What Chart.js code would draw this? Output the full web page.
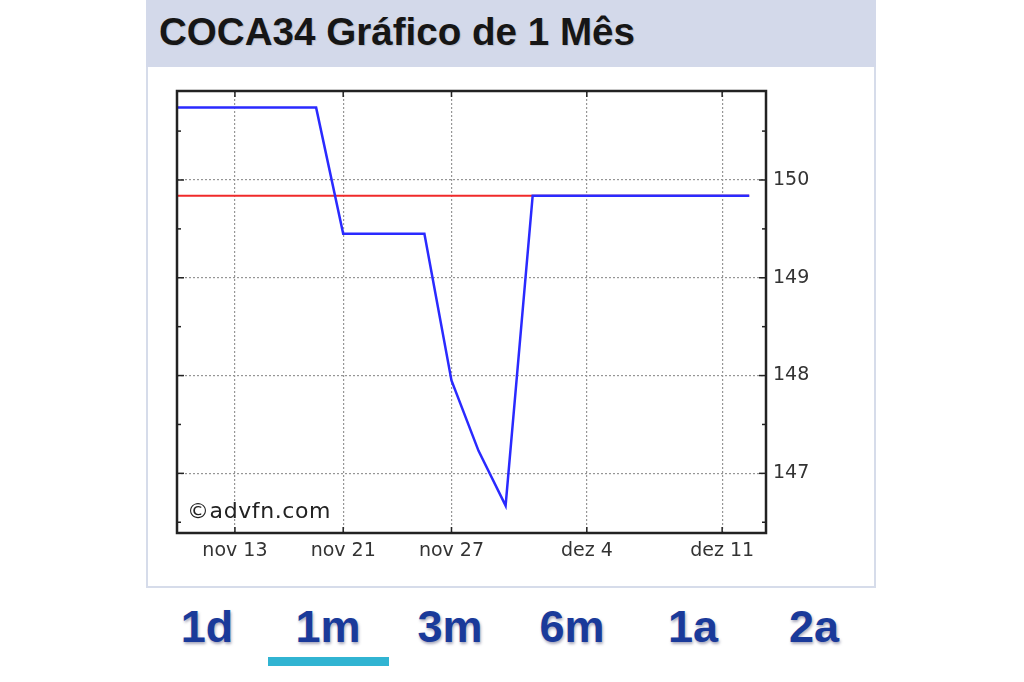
<!DOCTYPE html>
<html>
<head>
<meta charset="utf-8">
<script src="https://cdn.jsdelivr.net/npm/chart.js@4/dist/chart.umd.min.js"></script>
<style>
  body { margin: 0; width: 1024px; height: 682px; background: #fff; position: relative; overflow: hidden; }
  #panel { position: absolute; left: 146px; top: 0; width: 726px; height: 586px; border: 2px solid #d6dcea; border-top: none; }
  #header { position: absolute; left: 146px; top: 0; width: 730px; height: 67px; background: #d3d9ea; }
  #title { position: absolute; left: 159px; top: 13px; font: bold 38.6px/38px "Liberation Sans", Arial, sans-serif; color: #161616; text-shadow: 1px 1px 1px rgba(0,0,0,0.12); white-space: nowrap; }
  #chart { position: absolute; left: 146px; top: 67px; }
  #credit { position: absolute; left: 187px; top: 500px; font: 22px/22px "DejaVu Sans", Verdana, sans-serif; letter-spacing: 0.6px; color: #222; }
  .btn { position: absolute; top: 605px; width: 100px; text-align: center; font: bold 45px/44px "Liberation Sans", Arial, sans-serif; color: #1a3a9a; text-shadow: 1px 2px 3px rgba(0,0,60,0.35); }
  #underline { position: absolute; left: 268px; top: 657px; width: 121px; height: 9px; background: #31b4d2; }
</style>
</head>
<body>
<div id="panel"></div>
<div id="header"></div>
<div id="title">COCA34 Gráfico de 1 Mês</div>
<canvas id="chart" width="729" height="521"></canvas>
<div id="credit">©advfn.com</div>
<div id="buttons"></div>
<div id="underline"></div>
<script>
// eixo x = dias de pregão (nov 13 = 0), sem fins de semana e feriados
const tickDays = [0, 4, 8, 13, 18];
const tickLabels = ['nov 13', 'nov 21', 'nov 27', 'dez 4', 'dez 11'];

const priceDays = [-3, 3, 4, 7, 8, 9, 10, 11, 19];
const prices = [150.74, 150.74, 149.45, 149.45, 147.95, 147.23, 146.67, 149.84, 149.84];

// linha vermelha (preço de referência)
const refDays = [-3, 19];
const refPrices = [149.84, 149.84];

const yTicks = [147, 148, 149, 150];
const yMinor = [146.5, 147, 147.5, 148, 148.5, 149, 149.5, 150, 150.5];

const periods = ['1d', '1m', '3m', '6m', '1a', '2a'];
const periodCenters = [207, 328, 450, 572, 693, 814];

const btnBox = document.getElementById('buttons');
periods.forEach((p, i) => {
  const s = document.createElement('div');
  s.className = 'btn';
  s.textContent = p;
  s.style.left = (periodCenters[i] - 50) + 'px';
  btnBox.appendChild(s);
});

const frame = {
  id: 'frame',
  afterDatasetsDraw(chart) {
    const { ctx, chartArea: a, scales: { x, y } } = chart;
    const line = (x1, y1, x2, y2) => { ctx.beginPath(); ctx.moveTo(x1, y1); ctx.lineTo(x2, y2); ctx.stroke(); };
    ctx.save();
    ctx.strokeStyle = '#222';
    ctx.lineWidth = 1.5;
    yMinor.forEach(v => {
      const py = y.getPixelForValue(v);
      const len = Number.isInteger(v) ? 7 : 4;
      line(a.left, py, a.left + len, py);
      line(a.right - len, py, a.right, py);
    });
    tickDays.forEach(d => {
      const px = x.getPixelForValue(d);
      line(px, a.top, px, a.top + 6);
      line(px, a.bottom - 6, px, a.bottom);
    });
    ctx.lineWidth = 2.5;
    ctx.strokeRect(a.left, a.top, a.right - a.left, a.bottom - a.top);
    ctx.restore();
  }
};

const gridColor = '#969696';

new Chart(document.getElementById('chart'), {
  type: 'line',
  data: {
    datasets: [
      {
        data: priceDays.map((d, i) => ({ x: d, y: prices[i] })),
        borderColor: '#2a2aff',
        borderWidth: 2.5,
        pointRadius: 0,
        tension: 0,
        order: 0
      },
      {
        data: refDays.map((d, i) => ({ x: d, y: refPrices[i] })),
        borderColor: '#f02a2a',
        borderWidth: 2,
        pointRadius: 0,
        order: 1
      }
    ]
  },
  options: {
    responsive: false,
    animation: false,
    layout: { padding: { left: 31, top: 24, right: 66, bottom: 15 } },
    plugins: { legend: { display: false }, tooltip: { enabled: false } },
    scales: {
      x: {
        type: 'linear',
        min: -2.14,
        max: 19.62,
        afterBuildTicks: s => { s.ticks = tickDays.map(v => ({ value: v })); },
        afterFit: s => { s.height = 40; },
        grid: { color: gridColor, lineWidth: 1.2, drawTicks: false },
        border: { display: false, dash: [2, 2] },
        ticks: {
          padding: 7,
          maxRotation: 0,
          autoSkip: false,
          color: '#333',
          font: { family: '"DejaVu Sans", Verdana, sans-serif', size: 19 },
          callback: v => tickLabels[tickDays.indexOf(v)]
        }
      },
      y: {
        position: 'right',
        min: 146.39,
        max: 150.91,
        afterBuildTicks: s => { s.ticks = yTicks.map(v => ({ value: v })); },
        afterFit: s => { s.width = 43; },
        grid: { color: gridColor, lineWidth: 1.2, drawTicks: false },
        border: { display: false, dash: [2, 2] },
        ticks: {
          padding: 7,
          color: '#333',
          font: { family: '"DejaVu Sans", Verdana, sans-serif', size: 19 },
          callback: v => String(v)
        }
      }
    }
  },
  plugins: [frame]
});
</script>
</body>
</html>
